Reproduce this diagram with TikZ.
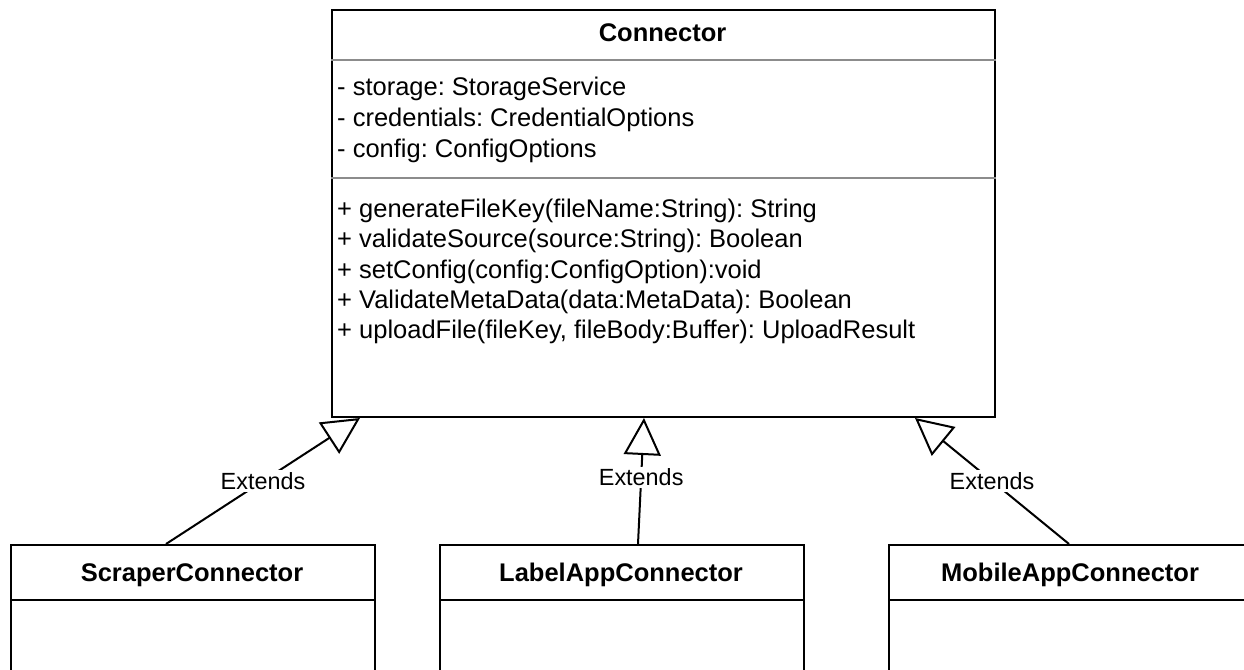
\documentclass[tikz,border=0pt]{standalone}
\usepackage{fontspec}
\setmainfont{Liberation Sans}
\usetikzlibrary{arrows.meta}
\definecolor{rulegray}{HTML}{8C8C8C}
\frenchspacing
\tikzset{
  classbox/.style={draw=black, line width=2pt, fill=white, rectangle, inner sep=0pt, anchor=north west},
  classname/.style={font=\bfseries\fontsize{25.5}{30}\selectfont, anchor=base, inner sep=0pt},
  member/.style={font=\fontsize{25.5}{30}\selectfont, anchor=base west, inner sep=0pt},
  graysep/.style={draw=rulegray, line width=2pt},
  blacksep/.style={draw=black, line width=2pt},
  extends/.style={draw=black, line width=2pt, line join=miter,
    -{Triangle[open, length=37pt, width=37pt]}},
  extlabel/.style={font=\fontsize{23.4}{28}\selectfont, fill=white, inner sep=2pt},
}
\begin{document}
\begin{tikzpicture}[x=1pt, y=-1pt]
\useasboundingbox (0,0) rectangle (1244,669);
\clip (0,0) rectangle (1244,669);

% base class
\node[classbox, minimum width=663pt, minimum height=407pt] (conn) at (331,9) {};
\draw[graysep] ([yshift=-51pt]conn.north west) -- ([yshift=-51pt]conn.north east);
\draw[graysep] ([yshift=-169pt]conn.north west) -- ([yshift=-169pt]conn.north east);
\node[classname] (connT) at (662.5,42) {Connector};

\node[member] (a1) at (337,95)  {- storage: StorageService};
\node[member] (a2) at (337,126) {- credentials: CredentialOptions};
\node[member] (a3) at (337,157) {- config: ConfigOptions};

\node[member] (m1) at (337,217)   {+ generateFileKey(fileName:String): String};
\node[member] (m2) at (337,247.5) {+ validateSource(source:String): Boolean};
\node[member] (m3) at (337,278)   {+ setConfig(config:ConfigOption):void};
\node[member] (m4) at (337,308)   {+ ValidateMetaData(data:MetaData): Boolean};
\node[member] (m5) at (337,338)   {+ uploadFile(fileKey, fileBody:Buffer): UploadResult};

% subclasses
\node[classbox, minimum width=364pt, minimum height=160pt] (scraper) at (10,544) {};
\node[classbox, minimum width=364pt, minimum height=160pt] (labelapp) at (439,544) {};
\node[classbox, minimum width=364pt, minimum height=160pt] (mobile) at (888,544) {};

\foreach \b in {scraper, labelapp, mobile}
  \draw[blacksep] ([yshift=-56pt]\b.north west) -- ([yshift=-56pt]\b.north east);

\node[classname] (scraperT)  at (192,581)  {ScraperConnector};
\node[classname] (labelappT) at (621,581)  {LabelAppConnector};
\node[classname] (mobileT)   at (1070,581) {MobileAppConnector};

% generalisation arrows
\draw[extends] ([xshift=-27pt]scraper.north) -- node[extlabel, pos=0.5] (e1) {Extends} ([xshift=29pt]conn.south west);
\draw[extends] ([xshift=16pt]labelapp.north) -- node[extlabel, pos=0.53] (e2) {Extends} ([xshift=-19.5pt]conn.south);
\draw[extends] ([xshift=-2pt]mobile.north) -- node[extlabel, pos=0.5] (e3) {Extends} ([xshift=-81pt]conn.south east);
\end{tikzpicture}
\end{document}
